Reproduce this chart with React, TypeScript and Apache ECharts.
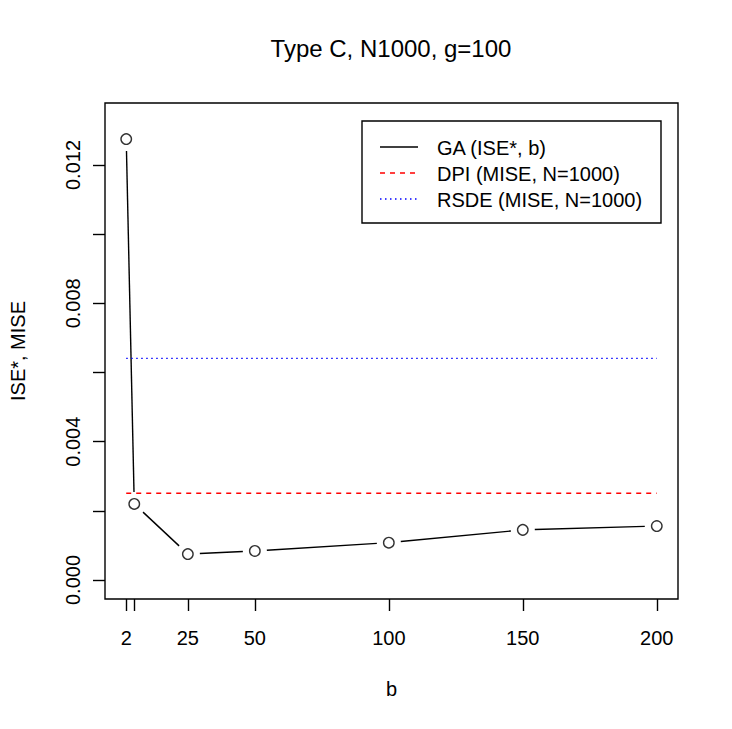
import React, { useEffect, useRef } from "react";
import * as echarts from "echarts";

// ---- data ----
const bValues = [2, 5, 25, 50, 100, 150, 200];
const gaISE = [0.01275, 0.0022, 0.00075, 0.00084, 0.00108, 0.00145, 0.00156];
const dpiMISE = 0.00251;
const rsdeMISE = 0.00641;
const refLineRange = [2, 200];
const xTickValues = [2, 5, 25, 50, 100, 150, 200];
const xLabelValues = [2, 25, 50, 100, 150, 200];
const yTickValues = [0, 0.002, 0.004, 0.006, 0.008, 0.01, 0.012];
const yLabelValues = [0, 0.004, 0.008, 0.012];
const titleText = "Type C, N1000, g=100";
const xTitle = "b";
const yTitle = "ISE*, MISE";
const legendLabels = ["GA (ISE*, b)", "DPI (MISE, N=1000)", "RSDE (MISE, N=1000)"];

const FONT = '"Liberation Sans", Arial, Helvetica, sans-serif';
const LW = 1.4;

export default function App() {
  const ref = useRef<HTMLDivElement>(null);

  useEffect(() => {
    if (!ref.current) return;
    const chart = echarts.init(ref.current, null, { renderer: "svg" });

    const points = bValues.map((b, i) => [b, gaISE[i]]);
    const segments = points.slice(0, -1).map((p, i) => [p[0], p[1], points[i + 1][0], points[i + 1][1]]);
    const GAP = 12;

    const option: any = {
      animation: false,
      backgroundColor: "#fff",
      textStyle: { fontFamily: FONT },
      title: {
        text: titleText,
        left: 391,
        top: 36,
        padding: 0,
        textAlign: "center",
        textStyle: { fontFamily: FONT, fontSize: 24, fontWeight: "normal", color: "#000" },
      },
      grid: {
        left: 104,
        right: 54,
        top: 103,
        bottom: 130,
        show: true,
        borderColor: "#000",
        borderWidth: LW,
        backgroundColor: "transparent",
      },
      xAxis: {
        type: "value",
        min: -5.92,
        max: 207.92,
        name: xTitle,
        nameLocation: "middle",
        nameGap: 80,
        nameTextStyle: { fontFamily: FONT, fontSize: 20, color: "#000" },
        axisLine: { show: false, onZero: false },
        splitLine: { show: false },
        axisTick: {
          show: true,
          inside: false,
          length: 12,
          customValues: xTickValues,
          lineStyle: { color: "#000", width: LW },
        },
        axisLabel: {
          customValues: xLabelValues,
          margin: 29,
          fontFamily: FONT,
          fontSize: 20,
          color: "#000",
        },
      },
      yAxis: {
        type: "value",
        min: -0.000549,
        max: 0.013793,
        name: yTitle,
        nameLocation: "middle",
        nameGap: 77,
        nameRotate: 90,
        nameTextStyle: { fontFamily: FONT, fontSize: 20, color: "#000" },
        axisLine: { show: false, onZero: false },
        splitLine: { show: false },
        axisTick: {
          show: true,
          inside: false,
          length: 12,
          customValues: yTickValues,
          lineStyle: { color: "#000", width: LW },
        },
        axisLabel: {
          customValues: yLabelValues,
          rotate: 90,
          margin: 22,
          fontFamily: FONT,
          fontSize: 20,
          color: "#000",
          formatter: (v: number) => v.toFixed(3),
        },
      },
      series: [
        {
          type: "custom",
          name: legendLabels[0],
          data: segments,
          z: 2,
          renderItem: (params: any, api: any) => {
            const p1 = api.coord([api.value(0), api.value(1)]);
            const p2 = api.coord([api.value(2), api.value(3)]);
            const dx = p2[0] - p1[0];
            const dy = p2[1] - p1[1];
            const d = Math.sqrt(dx * dx + dy * dy);
            if (d <= 2 * GAP) return null;
            const ux = dx / d;
            const uy = dy / d;
            return {
              type: "line",
              shape: {
                x1: p1[0] + ux * GAP,
                y1: p1[1] + uy * GAP,
                x2: p2[0] - ux * GAP,
                y2: p2[1] - uy * GAP,
              },
              style: { stroke: "#000", lineWidth: LW },
            };
          },
        },
        {
          type: "scatter",
          data: points,
          symbol: "circle",
          symbolSize: 10.5,
          z: 3,
          itemStyle: { color: "#fff", borderColor: "#000", borderWidth: LW },
        },
        {
          type: "line",
          name: legendLabels[1],
          data: refLineRange.map((b) => [b, dpiMISE]),
          symbol: "none",
          z: 4,
          lineStyle: { color: "#ff0000", width: LW, type: [5, 5] },
        },
        {
          type: "line",
          name: legendLabels[2],
          data: refLineRange.map((b) => [b, rsdeMISE]),
          symbol: "none",
          z: 4,
          lineStyle: { color: "#0000ff", width: LW, type: [1.5, 3.5] },
        },
      ],
      graphic: [
        {
          type: "rect",
          shape: { x: 362, y: 121, width: 299, height: 102 },
          style: { fill: "#fff", stroke: "#000", lineWidth: LW },
          z: 10,
        },
        {
          type: "line",
          shape: { x1: 380, y1: 147, x2: 418, y2: 147 },
          style: { stroke: "#000", lineWidth: LW },
          z: 11,
        },
        {
          type: "line",
          shape: { x1: 380, y1: 173, x2: 418, y2: 173 },
          style: { stroke: "#ff0000", lineWidth: LW, lineDash: [5, 5] },
          z: 11,
        },
        {
          type: "line",
          shape: { x1: 380, y1: 199, x2: 418, y2: 199 },
          style: { stroke: "#0000ff", lineWidth: LW, lineDash: [1.5, 3.5] },
          z: 11,
        },
        ...legendLabels.map((t, i) => ({
          type: "text",
          x: 437,
          y: 148 + i * 26,
          z: 11,
          style: {
            text: t,
            fill: "#000",
            font: `20px ${FONT}`,
            textAlign: "left",
            textVerticalAlign: "middle",
          },
        })),
      ],
    };

    chart.setOption(option);
    return () => chart.dispose();
  }, []);

  return (
    <div
      ref={ref}
      style={{ position: "fixed", left: 0, top: 0, width: 732, height: 729 }}
    />
  );
}
